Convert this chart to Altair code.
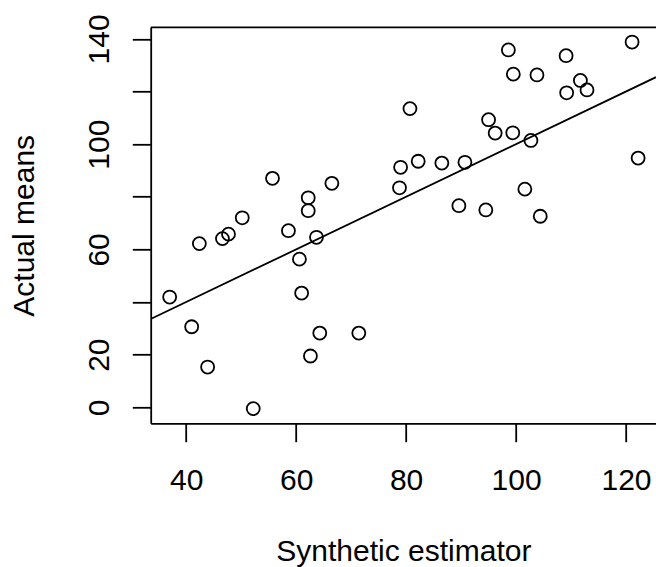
import altair as alt
import pandas as pd

# Data
synthetic = [55.7, 50.2, 62.2, 62.2, 66.5, 42.4, 46.6, 47.7, 58.6, 63.7,
             60.6, 37.0, 61.0, 41.0, 64.3, 71.4, 62.6, 43.9, 52.2, 98.6,
             121.1, 109.1, 99.5, 103.8, 111.7, 112.9, 109.2, 80.7, 95.0, 96.2,
             99.4, 102.7, 122.2, 79.0, 82.2, 86.5, 90.7, 78.8, 101.6, 89.6,
             94.5, 104.4]
actual = [87.0, 72.0, 79.6, 74.7, 85.1, 62.2, 64.1, 65.8, 67.1, 64.6,
          56.3, 41.9, 43.4, 30.6, 28.2, 28.2, 19.5, 15.3, -0.5, 135.8,
          138.8, 133.6, 126.6, 126.3, 124.2, 120.6, 119.5, 113.5, 109.3, 104.2,
          104.3, 101.4, 94.7, 91.2, 93.5, 92.8, 93.1, 83.4, 82.9, 76.6,
          75.0, 72.6]

x_ticks = [40, 60, 80, 100, 120]
y_ticks = [0, 20, 40, 60, 80, 100, 120, 140]

line_intercept = 0.0
line_slope = 1.0

x_domain = [33.55, 125.45]
y_domain = [-6.08, 144.4]

W = 505.3
H = 396.0
FONT = "Liberation Sans"
FS = 30
LW = 1.8

pts = pd.DataFrame({"x": synthetic, "y": actual})
line_df = pd.DataFrame({
    "x": x_domain,
    "y": [line_intercept + line_slope * v for v in x_domain],
})

xscale = alt.Scale(domain=x_domain, nice=False, zero=False)
yscale = alt.Scale(domain=y_domain, nice=False, zero=False)

xaxis = alt.Axis(
    values=x_ticks, title="Synthetic estimator", grid=False,
    tickSize=18.4, tickWidth=LW, tickColor="black",
    domainColor="black", domainWidth=LW,
    labelFont=FONT, labelFontSize=FS, labelColor="black",
    labelBaseline="alphabetic", labelPadding=48, labelFlush=False,
    labelOverlap=False,
    titleFont=FONT, titleFontSize=FS, titleFontWeight="normal",
    titleColor="black", titleBaseline="alphabetic", titleY=137.2,
)
yaxis = alt.Axis(
    values=y_ticks, title="Actual means", grid=False,
    tickSize=18.4, tickWidth=LW, tickColor="black",
    domainColor="black", domainWidth=LW,
    labelFont=FONT, labelFontSize=FS, labelColor="black",
    labelAngle=270, labelAlign="center", labelBaseline="alphabetic",
    labelPadding=24, labelFlush=False, labelOverlap=False,
    labelExpr="(datum.value == 40 || datum.value == 80 || datum.value == 120) ? '' : datum.label",
    titleFont=FONT, titleFontSize=FS, titleFontWeight="normal",
    titleColor="black", titleAngle=270, titleAlign="center",
    titleBaseline="alphabetic", titleX=-117.4, titleY=H / 2,
)

points = alt.Chart(pts).mark_point(
    shape="circle", filled=False, color="black", size=169, strokeWidth=LW,
    opacity=1,
).encode(
    x=alt.X("x:Q", scale=xscale, axis=xaxis),
    y=alt.Y("y:Q", scale=yscale, axis=yaxis),
)

fit = alt.Chart(line_df).mark_line(color="black", strokeWidth=LW, clip=True).encode(
    x=alt.X("x:Q", scale=xscale),
    y=alt.Y("y:Q", scale=yscale),
)

top_border = alt.Chart(pd.DataFrame({"a": [0]})).mark_rule(
    color="black", strokeWidth=LW
).encode(x=alt.value(0), x2=alt.value(W), y=alt.value(0))

chart = alt.layer(points, fit, top_border).properties(
    width=W, height=H,
    padding={"left": 150.7, "top": 27.3, "right": 0, "bottom": 143.7},
    autosize=alt.AutoSizeParams(type="none"),
    background="white",
).configure_view(stroke=None)

chart.save("out.html", embed_options={"renderer": "svg", "actions": False})
